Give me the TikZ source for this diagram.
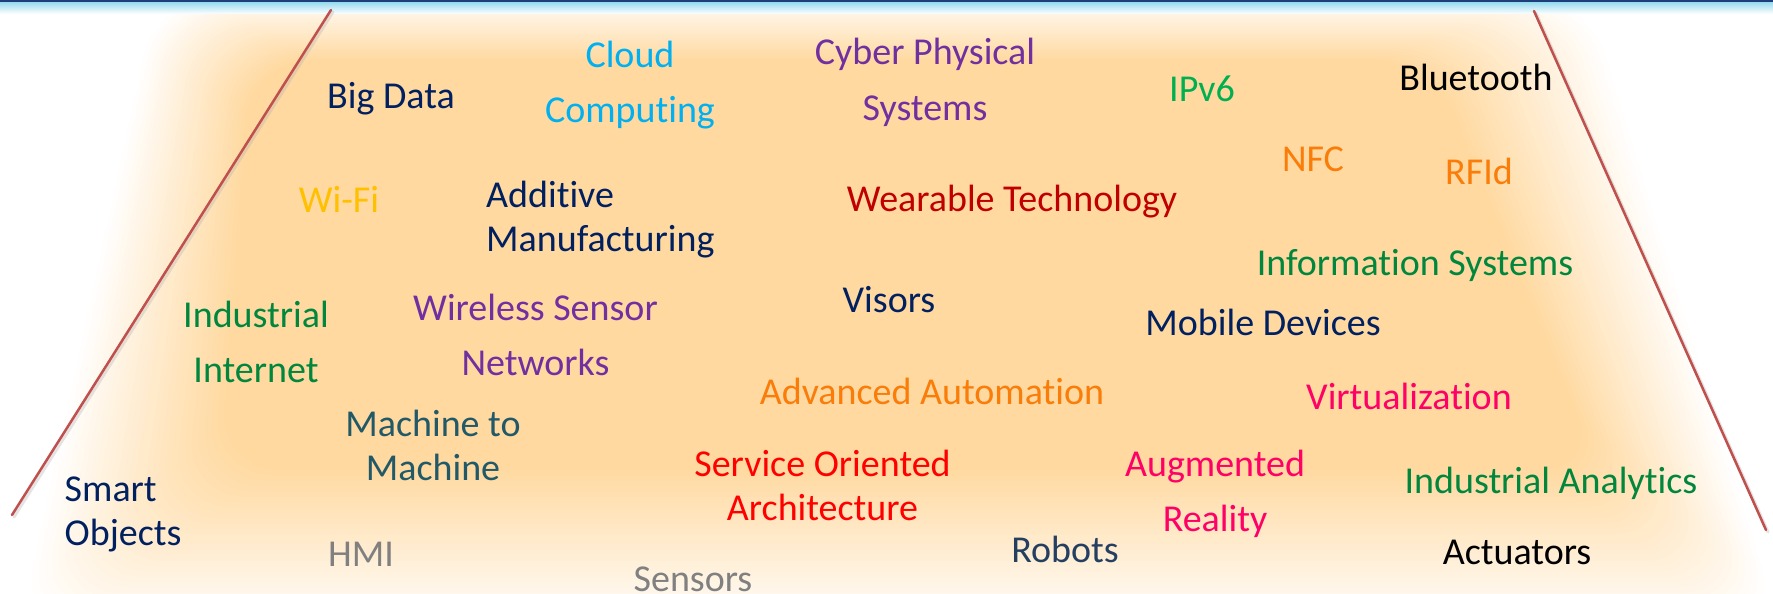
\documentclass[tikz,border=0pt]{standalone}
\usepackage{fontspec}
\setmainfont{Carlito}[Ligatures={NoCommon}]
\usepackage{xcolor}
\usepackage{tikz}
\usetikzlibrary{calc}

\definecolor{navy}{HTML}{002060}
\definecolor{sky}{HTML}{00B0F0}
\definecolor{plum}{HTML}{7030A0}
\definecolor{leaf}{HTML}{00B050}
\definecolor{forest}{HTML}{00863D}
\definecolor{amber}{HTML}{FFC000}
\definecolor{tangerine}{HTML}{FA7D0A}
\definecolor{crimson}{HTML}{C00000}
\definecolor{scarlet}{HTML}{FF0000}
\definecolor{rose}{HTML}{FF0066}
\definecolor{petrol}{HTML}{215968}
\definecolor{slate}{HTML}{243F60}
\definecolor{ash}{HTML}{808080}
\definecolor{glow}{HTML}{FFD9A0}
\definecolor{rimred}{HTML}{C0504D}
\definecolor{barblue}{HTML}{1F3F7A}
\definecolor{barcyan}{HTML}{9ADCF0}

\begin{document}
\begin{tikzpicture}[
		x=1pt, y=-1pt,
		term/.style={inner sep=0pt, anchor=base, font=\fontsize{38}{55}\selectfont},
		pair/.style={term, align=center},
		tight/.style={font=\fontsize{38}{44}\selectfont},
		rim/.style={draw=rimred, line width=2.5pt, line cap=round},
		rimshade/.style={draw=black!30, line width=3pt, opacity=0.35, line cap=round}
	]
		\useasboundingbox (0,0) rectangle (1773,594);
		\clip (0,0) rectangle (1773,594);
		\fill[white] (0,0) rectangle (1773,594);

		% Soft-edged glow
		\coordinate (oTL) at (154,-5);
		\coordinate (oTR) at (1592,-5);
		\coordinate (oBR) at (1785,630);
		\coordinate (oBL) at (14,630);
		\coordinate (iTL) at (250,60);
		\coordinate (iTR) at (1432,60);
		\coordinate (iBR) at (1600,470);
		\coordinate (iBL) at (220,470);
		\foreach \k in {0,...,30}{
			\pgfmathsetmacro{\t}{\k/30}
			\pgfmathsetmacro{\p}{100*\k/30}
			\fill[glow!\p!white, rounded corners=60pt]
				($(oTL)!\t!(iTL)$) -- ($(oTR)!\t!(iTR)$) --
				($(oBR)!\t!(iBR)$) -- ($(oBL)!\t!(iBL)$) -- cycle;
		}

		% Top bar
		\fill[barblue] (0,0) rectangle (1773,2.5);
		\shade[top color=barcyan, bottom color=white] (0,2.5) rectangle (1773,14);

		% Side lines
		\coordinate (lefttop) at (331,10);
		\coordinate (leftbot) at (12,515);
		\coordinate (righttop) at (1534,11);
		\coordinate (rightbot) at (1766,530);
		\draw[rimshade] ([shift={(2,2)}]lefttop) -- ([shift={(2,2)}]leftbot);
		\draw[rimshade] ([shift={(2,2)}]righttop) -- ([shift={(2,2)}]rightbot);
		\draw[rim] (lefttop) -- (leftbot);
		\draw[rim] (righttop) -- (rightbot);

		% Top row (two-line labels sit on their last baseline)
		\node[term, text=navy] (bigdata) at (391,109) {Big Data};
		\node[pair, text=sky] (cloud) at (630,122) {Cloud\\Computing};
		\node[pair, text=plum] (cps) at (925,120) {Cyber Physical\\Systems};
		\node[term, text=leaf] (ipv6) at (1202,101) {IPv6};
		\node[term, text=black] (bluetooth) at (1476,91) {Bluetooth};
		\node[term, text=tangerine] (nfc) at (1313,171) {NFC};
		\node[term, text=tangerine] (rfid) at (1479,184) {RFId};

		% Second row
		\node[term, text=amber] (wifi) at (339,212) {Wi-Fi};
		\node[pair, tight, align=left, anchor=base west, text=navy] (additive) at (486,251) {Additive\\Manufacturing};
		\node[term, text=crimson] (wearable) at (1012,211) {Wearable Technology};
		\node[term, text=forest] (infosys) at (1415,275) {Information Systems};

		% Middle row
		\node[pair, text=forest] (iiot) at (256,382) {Industrial\\Internet};
		\node[pair, text=plum] (wsn) at (535.5,375.5) {Wireless Sensor\\Networks};
		\node[term, text=navy] (visors) at (889,312) {Visors};
		\node[term, text=navy] (mobile) at (1263,335) {Mobile Devices};
		\node[term, text=tangerine] (automation) at (932,404) {Advanced Automation};
		\node[term, text=rose] (virtual) at (1409,409) {Virtualization};

		% Lower row
		\node[pair, tight, text=petrol] (m2m) at (433,480.5) {Machine to\\Machine};
		\node[pair, tight, text=scarlet] (soa) at (822.5,520) {Service Oriented\\Architecture};
		\node[pair, text=rose] (ar) at (1215,531.5) {Augmented\\Reality};
		\node[term, text=forest] (analytics) at (1551,493) {Industrial Analytics};
		\node[pair, tight, align=left, anchor=base west, text=navy] (smart) at (64.5,545) {Smart\\Objects};

		% Bottom row
		\node[term, text=ash] (hmi) at (361,566.5) {HMI};
		\node[term, text=ash] (sensors) at (693,591) {Sensors};
		\node[term, text=slate] (robots) at (1065,562) {Robots};
		\node[term, text=black] (actuators) at (1517,564) {Actuators};
	\end{tikzpicture}
\end{document}
